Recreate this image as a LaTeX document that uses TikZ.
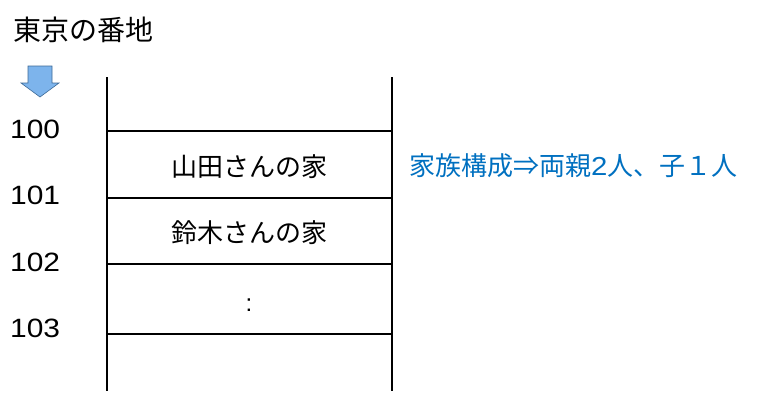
\documentclass[tikz,border=0pt]{standalone}
\usepackage{fontspec}
\setmainfont{Liberation Sans}
\newfontfamily\jp{Noto Sans CJK JP}
\newfontfamily\addrfont[FakeStretch=1.13]{Liberation Sans}
\usetikzlibrary{positioning}
\definecolor{arrowblue}{RGB}{125,180,236}
\definecolor{arrowedge}{RGB}{60,105,150}
\definecolor{noteblue}{RGB}{0,112,192}

\begin{document}
\begin{tikzpicture}[x=1pt,y=-1pt,
    addr/.style={anchor=base west,inner sep=0pt,font=\addrfont\fontsize{26.5}{28}\selectfont},
    house/.style={inner sep=0pt,font=\jp\fontsize{26}{28}\selectfont},
    rail/.style={line width=1.6pt}]

                \useasboundingbox (0,0) rectangle (763,408);

                \node[house,anchor=west,font=\jp\fontsize{28}{30}\selectfont] (title) at (13,30) {東京の番地};

                \draw[fill=arrowblue,draw=arrowedge,line width=0.6pt] (28,66) -- (52,66) -- (52,83) -- (59,83)
                     -- (40,97) -- (21,83) -- (28,83) -- cycle;

                \coordinate (tl) at (107,77);
                \coordinate (tr) at (392,77);
                \coordinate (bl) at (107,391);
                \coordinate (br) at (392,391);
                \draw[rail] (tl) -- (bl) (tr) -- (br);
                \foreach \y in {131,198,264,334}
                    \draw[rail] (107,\y) -- (392,\y);

                \node[addr] (a100) at (10,138) {100};
                \node[addr] (a101) at (10,204) {101};
                \node[addr] (a102) at (10,271) {102};
                \node[addr] (a103) at (10,337) {103};

                \node[house] (yamada) at (249,167) {山田さんの家};
                \node[house] (suzuki) at (249,233) {鈴木さんの家};
                \node[inner sep=0pt,font=\fontsize{24}{26}\selectfont] (dots) at (249,305) {:};

                \node[house,anchor=west,text=noteblue] (family) at (409,166) {家族構成⇒両親{\addrfont 2}人、子１人};

            \end{tikzpicture}
\end{document}
